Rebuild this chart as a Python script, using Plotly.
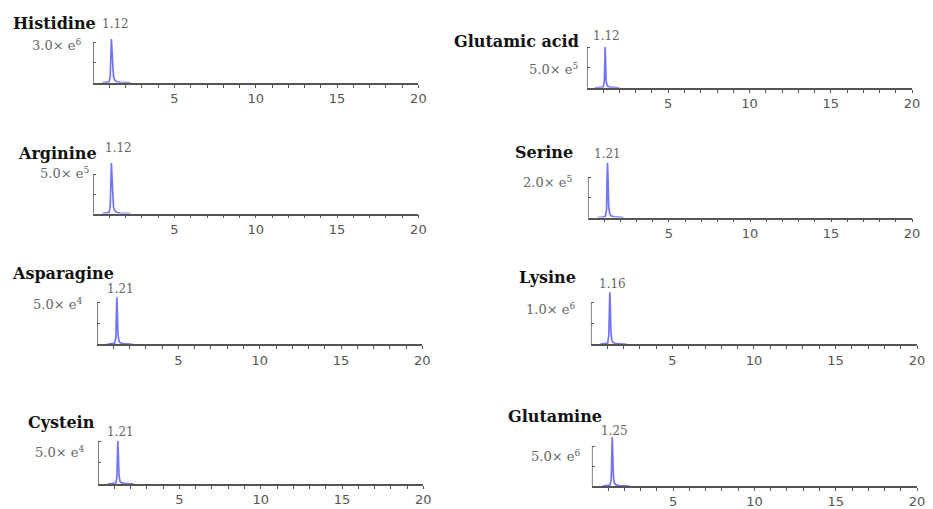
import plotly.graph_objects as go

# ---------------- data ----------------
compounds = ["Histidine", "Glutamic acid", "Arginine", "Serine",
             "Asparagine", "Lysine", "Cystein", "Glutamine"]
retention_times = [1.12, 1.12, 1.12, 1.21, 1.21, 1.16, 1.21, 1.25]
scale_values = [3.0e6, 5.0e5, 5.0e5, 2.0e5, 5.0e4, 1.0e6, 5.0e4, 5.0e6]
scale_labels = ["3.0× e<sup>6</sup>", "5.0× e<sup>5</sup>", "5.0× e<sup>5</sup>",
                "2.0× e<sup>5</sup>", "5.0× e<sup>4</sup>", "1.0× e<sup>6</sup>",
                "5.0× e<sup>4</sup>", "5.0× e<sup>6</sup>"]
x_tick_values = [5, 10, 15, 20]
x_minor_ticks = list(range(1, 20))

histidine_t = [0.55, 0.85, 0.98, 1.05, 1.09, 1.12, 1.15, 1.19, 1.25, 1.33, 1.45, 1.65, 1.95, 2.3]
histidine_i = [0, 2e4, 8e4, 5e5, 2.4e6, 3.3e6, 2.6e6, 1.2e6, 4.5e5, 2e5, 8e4, 3e4, 1e4, 0]

glutamic_t = [0.5, 0.85, 1.0, 1.07, 1.10, 1.12, 1.14, 1.18, 1.25, 1.4, 1.7, 2.0]
glutamic_i = [0, 3e3, 1e4, 8e4, 3.8e5, 5.1e5, 3.9e5, 9e4, 2.5e4, 1e4, 4e3, 0]

arginine_t = [0.55, 0.85, 0.98, 1.05, 1.09, 1.12, 1.15, 1.19, 1.25, 1.33, 1.45, 1.65, 1.95, 2.3]
arginine_i = [0, 4e3, 1.5e4, 1.0e5, 4.6e5, 6.5e5, 5.0e5, 2.3e5, 8.5e4, 3.5e4, 1.4e4, 6e3, 2e3, 0]

serine_t = [0.6, 0.95, 1.08, 1.15, 1.18, 1.21, 1.24, 1.28, 1.34, 1.42, 1.6, 1.9, 2.2]
serine_i = [0, 2e3, 7e3, 4e4, 1.9e5, 2.75e5, 2.0e5, 6e4, 2e4, 9e3, 4e3, 1.5e3, 0]

asparagine_t = [0.6, 0.95, 1.08, 1.15, 1.18, 1.21, 1.24, 1.28, 1.34, 1.42, 1.6, 1.9, 2.2]
asparagine_i = [0, 4e2, 1.4e3, 8e3, 3.9e4, 5.6e4, 4.1e4, 1.2e4, 4e3, 1.8e3, 8e2, 3e2, 0]

lysine_t = [0.55, 0.9, 1.03, 1.10, 1.13, 1.16, 1.19, 1.23, 1.29, 1.37, 1.55, 1.85, 2.2]
lysine_i = [0, 1e4, 3e4, 2.2e5, 9e5, 1.24e6, 9.2e5, 2.8e5, 9e4, 4e4, 1.5e4, 5e3, 0]

cystein_t = [0.6, 0.95, 1.08, 1.15, 1.18, 1.21, 1.24, 1.28, 1.34, 1.42, 1.6, 1.9, 2.2]
cystein_i = [0, 4e2, 1.2e3, 7e3, 3.5e4, 5.0e4, 3.6e4, 1.1e4, 3.5e3, 1.6e3, 7e2, 3e2, 0]

glutamine_t = [0.65, 1.0, 1.12, 1.19, 1.22, 1.25, 1.28, 1.32, 1.38, 1.46, 1.65, 1.95, 2.3]
glutamine_i = [0, 4e4, 1.3e5, 9e5, 4.3e6, 6.1e6, 4.4e6, 1.3e6, 4e5, 1.7e5, 7e4, 2.5e4, 0]

times = [histidine_t, glutamic_t, arginine_t, serine_t,
         asparagine_t, lysine_t, cystein_t, glutamine_t]
intensities = [histidine_i, glutamic_i, arginine_i, serine_i,
               asparagine_i, lysine_i, cystein_i, glutamine_i]

# ---------------- layout (pixel geometry) ----------------
W, H = 933, 509
# (axis left px, axis right px, top tick px, baseline px)
panels = [(94, 422, 43, 83), (592, 920, 48, 88),
          (94, 422, 175, 214), (593, 920, 178, 218),
          (98, 426, 303, 345), (596, 925, 303, 345),
          (99, 427, 442, 485), (597, 925, 447, 487)]
title_pos = [(11, 24), (456, 42), (16, 154), (517, 153),
             (10, 274), (521, 278), (26, 423), (510, 417)]
scale_pos = [(84, 45), (585, 69), (92, 173), (579, 182),
             (85, 305), (582, 310), (87, 453), (587, 457)]
peak_pos = [(117, 24), (612, 36), (120, 148), (613, 154),
            (122, 290), (618, 285), (122, 433), (620, 432)]

EXT = 1.6
AX = "#555555"

fig = go.Figure()
layout = dict(width=W, height=H, margin=dict(l=0, r=0, t=0, b=0),
              paper_bgcolor="white", plot_bgcolor="rgba(0,0,0,0)",
              showlegend=False)
annotations = []
shapes = []

for k in range(8):
    n = k + 1
    xs = "" if n == 1 else str(n)
    x0, x1, top, base = panels[k]
    ydom_top = base - EXT * (base - top)
    fig.add_trace(go.Scatter(
        x=times[k], y=intensities[k], mode="lines",
        line=dict(color="rgba(100,100,245,0.9)", width=1.7),
        xaxis="x" + xs, yaxis="y" + xs, hoverinfo="skip"))
    layout["xaxis" + xs] = dict(
        domain=[x0 / W, x1 / W], range=[0, 20], anchor="y" + xs,
        showline=True, linecolor=AX, linewidth=1.5, showgrid=False,
        zeroline=False, tickvals=x_tick_values, ticks="outside",
        ticklen=3, tickcolor=AX, tickwidth=1.2,
        tickfont=dict(family="DejaVu Sans", size=13, color="#555555"),
        minor=dict(tickvals=x_minor_ticks, ticks="outside", ticklen=3,
                   tickcolor=AX, tickwidth=1.2),
        fixedrange=True)
    layout["yaxis" + xs] = dict(
        domain=[1 - base / H, 1 - ydom_top / H],
        range=[0, EXT * scale_values[k]], anchor="x" + xs,
        showline=False, showgrid=False, zeroline=False,
        tickvals=[scale_values[k] / 2, scale_values[k]],
        ticks="inside", ticklen=3, tickcolor=AX, tickwidth=1.2,
        showticklabels=False, fixedrange=True)
    shapes.append(dict(type="line", xref="x" + xs, yref="y" + xs,
                       x0=0, x1=0, y0=0, y1=scale_values[k],
                       line=dict(color=AX, width=1.5)))
    tx, ty = title_pos[k]
    annotations.append(dict(text=compounds[k], xref="paper", yref="paper",
                            x=tx / W, y=1 - ty / H, xanchor="left", yanchor="middle",
                            showarrow=False,
                            font=dict(family="DejaVu Serif", size=16, color="#111111",
                                      weight="bold")))
    sx, sy = scale_pos[k]
    annotations.append(dict(text=scale_labels[k], xref="paper", yref="paper",
                            x=sx / W, y=1 - sy / H, xanchor="right", yanchor="middle",
                            showarrow=False,
                            font=dict(family="DejaVu Serif", size=13, color="#666666")))
    px, py = peak_pos[k]
    annotations.append(dict(text=f"{retention_times[k]:.2f}", xref="paper", yref="paper",
                            x=px / W, y=1 - py / H, xanchor="center", yanchor="middle",
                            showarrow=False,
                            font=dict(family="DejaVu Serif", size=12, color="#666666")))

layout["annotations"] = annotations
layout["shapes"] = shapes
fig.update_layout(**layout)
fig.write_html("out.html", config={"displayModeBar": False},
               post_script="document.body.style.margin='0';document.body.style.overflow='hidden';")
